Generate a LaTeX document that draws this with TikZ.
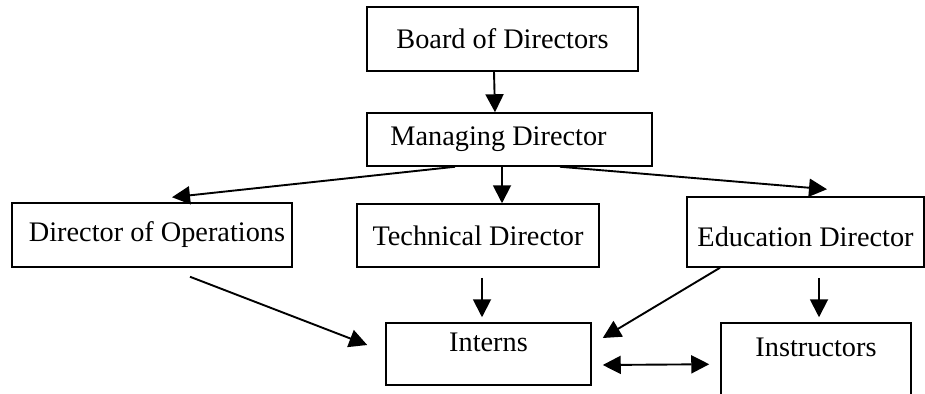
\documentclass[tikz,border=0pt]{standalone}
\usepackage{fontspec}
\setmainfont{Liberation Serif}
\usetikzlibrary{arrows.meta,calc}
\begin{document}
\begin{tikzpicture}[x=1pt,y=-1pt,
  box/.style={draw, line width=1.5pt, inner sep=0pt, font=\fontsize{28.3}{34}\selectfont},
  arr/.style={line width=1.9pt, -{Triangle[length=18pt,width=18pt]}},
  darr/.style={line width=1.9pt, {Triangle[length=18pt,width=18pt]}-{Triangle[length=18pt,width=18pt]}}
  ]
\useasboundingbox (0,0) rectangle (925,393);
\clip (0,0) rectangle (925,393);
\node[box, minimum width=271pt, minimum height=64pt] (bod) at (502.5,39) {Board of Directors};
\node[box, minimum width=285pt, minimum height=53pt] (md) at (509.5,139.5) {Managing Director\rule{22pt}{0pt}};
\node[box, minimum width=280pt, minimum height=64pt] (dirops) at (152,235) {\hspace{10pt}Director of Operations};
\node[box, minimum width=242pt, minimum height=63pt] (tech) at (478,235.5) {Technical Director};
\node[box, minimum width=237pt, minimum height=70pt, text height=29.5pt] (edu) at (805.5,232) {Education Director};
\node[box, minimum width=205pt, minimum height=62pt, text depth=24pt] (interns) at (488.5,354) {Interns};
\node[box, minimum width=190pt, minimum height=90pt, text depth=42pt] (instr) at (816,368) {Instructors};
\draw[arr] ($(bod.south)+(-8.5,0)$) -- ($(md.north)+(-14.5,0)$);
\draw[arr] ($(md.south)+(-54.5,0)$) -- ($(dirops.north)+(20,-5)$);
\draw[arr] ($(md.south)+(-7.5,0)$) -- ($(tech.north)+(24,0)$);
\draw[arr] ($(md.south)+(50.5,0)$) -- ($(edu.north)+(21.5,-7)$);
\draw[arr] ($(dirops.south)+(38,9)$) -- ($(interns.west)+(-18,-9)$);
\draw[arr] ($(tech.south)+(4,10)$) -- ($(interns.north)+(-6.5,-5)$);
\draw[arr] ($(edu.south)+(-85.5,0)$) -- ($(interns.east)+(11,-16)$);
\draw[arr] ($(edu.south)+(13.5,10)$) -- ($(instr.north)+(3,-5)$);
\draw[darr] ($(interns.east)+(11,11)$) -- ($(instr.north west)+(-11,42)$);
\end{tikzpicture}
\end{document}
